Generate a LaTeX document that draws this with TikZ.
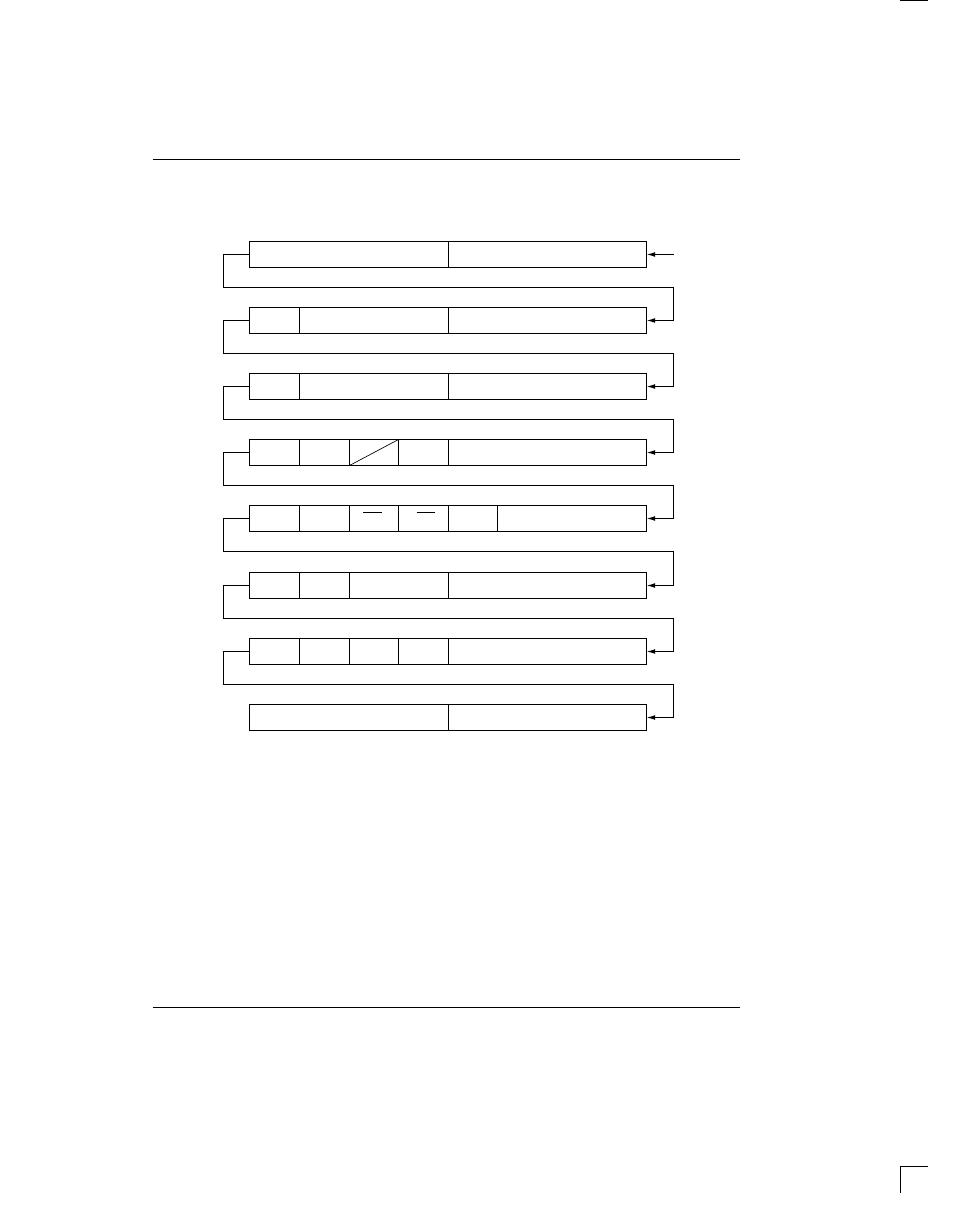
\documentclass[tikz,border=0pt]{standalone}
\usetikzlibrary{arrows.meta}
\newcommand\pxu{0.75pt}
\begin{document}
\begin{tikzpicture}[x=0.75pt,y=-0.75pt,
  cell/.style={draw, rectangle, inner sep=0pt, outer sep=0pt, minimum height=26*\pxu, line width=0.8pt},
  cellfirst/.style={cell, anchor=north west},
  cellnext/.style={cell, anchor=west},
  link/.style={line width=0.8pt, -{Latex[length=6.5pt,width=3.6pt]}},
  pagerule/.style={line width=0.8pt},
  cropmark/.style={line width=0.9pt}]
\useasboundingbox (0,0) rectangle (954,1219);
% page rules and crop marks
\draw[pagerule] (153,159.5) -- (739.5,159.5);
\draw[pagerule] (153,1007.5) -- (739.5,1007.5);
\draw[cropmark] (900,0.5) -- (927.5,0.5);
\draw[cropmark] (900.5,1192.5) -- (900.5,1166.5) -- (927.5,1166.5);
% row 1
\node[cellfirst, minimum width=199*\pxu] (r1a) at (249.5,241.5) {};
\node[cellnext, minimum width=198*\pxu] (r1b) at (r1a.east) {};
% row 2
\node[cellfirst, minimum width=50*\pxu] (r2a) at (249.5,307.5) {};
\node[cellnext, minimum width=149*\pxu] (r2b) at (r2a.east) {};
\node[cellnext, minimum width=198*\pxu] (r2c) at (r2b.east) {};
% row 3
\node[cellfirst, minimum width=50*\pxu] (r3a) at (249.5,373.5) {};
\node[cellnext, minimum width=149*\pxu] (r3b) at (r3a.east) {};
\node[cellnext, minimum width=198*\pxu] (r3c) at (r3b.east) {};
% row 4
\node[cellfirst, minimum width=50*\pxu] (r4a) at (249.5,439.5) {};
\node[cellnext, minimum width=50*\pxu] (r4b) at (r4a.east) {};
\node[cellnext, minimum width=49*\pxu] (r4c) at (r4b.east) {};
\node[cellnext, minimum width=50*\pxu] (r4d) at (r4c.east) {};
\node[cellnext, minimum width=198*\pxu] (r4e) at (r4d.east) {};
\draw[line width=0.5pt] (r4c.south west) -- (r4c.north east);
% row 5
\node[cellfirst, minimum width=50*\pxu] (r5a) at (249.5,505.5) {};
\node[cellnext, minimum width=50*\pxu] (r5b) at (r5a.east) {};
\node[cellnext, minimum width=49*\pxu] (r5c) at (r5b.east) {};
\node[cellnext, minimum width=50*\pxu] (r5d) at (r5c.east) {};
\node[cellnext, minimum width=49*\pxu] (r5e) at (r5d.east) {};
\node[cellnext, minimum width=149*\pxu] (r5f) at (r5e.east) {};
\draw[line width=0.8pt] ([xshift=-11*\pxu, yshift=-7*\pxu]r5c.north) -- ++(19,0);
\draw[line width=0.8pt] ([xshift=-7*\pxu, yshift=-7*\pxu]r5d.north) -- ++(18,0);
% row 6
\node[cellfirst, minimum width=50*\pxu] (r6a) at (249.5,572.5) {};
\node[cellnext, minimum width=50*\pxu] (r6b) at (r6a.east) {};
\node[cellnext, minimum width=99*\pxu] (r6c) at (r6b.east) {};
\node[cellnext, minimum width=198*\pxu] (r6d) at (r6c.east) {};
% row 7
\node[cellfirst, minimum width=50*\pxu] (r7a) at (249.5,638.5) {};
\node[cellnext, minimum width=50*\pxu] (r7b) at (r7a.east) {};
\node[cellnext, minimum width=49*\pxu] (r7c) at (r7b.east) {};
\node[cellnext, minimum width=50*\pxu] (r7d) at (r7c.east) {};
\node[cellnext, minimum width=198*\pxu] (r7e) at (r7d.east) {};
% row 8
\node[cellfirst, minimum width=199*\pxu] (r8a) at (249.5,704.5) {};
\node[cellnext, minimum width=198*\pxu] (r8b) at (r8a.east) {};
% connectors
\coordinate (in) at (673.5,254.5);
\draw[link] (in) -- (r1b.east);
\draw[link] (r1a.west) -- ++(-26,0) -- ++(0,33) -| ([xshift=27*\pxu]r2c.east) -- (r2c.east);
\draw[link] (r2a.west) -- ++(-26,0) -- ++(0,33) -| ([xshift=27*\pxu]r3c.east) -- (r3c.east);
\draw[link] (r3a.west) -- ++(-26,0) -- ++(0,33) -| ([xshift=27*\pxu]r4e.east) -- (r4e.east);
\draw[link] (r4a.west) -- ++(-26,0) -- ++(0,33) -| ([xshift=27*\pxu]r5f.east) -- (r5f.east);
\draw[link] (r5a.west) -- ++(-26,0) -- ++(0,33) -| ([xshift=27*\pxu]r6d.east) -- (r6d.east);
\draw[link] (r6a.west) -- ++(-26,0) -- ++(0,33) -| ([xshift=27*\pxu]r7e.east) -- (r7e.east);
\draw[link] (r7a.west) -- ++(-26,0) -- ++(0,33) -| ([xshift=27*\pxu]r8b.east) -- (r8b.east);
\end{tikzpicture}
\end{document}
